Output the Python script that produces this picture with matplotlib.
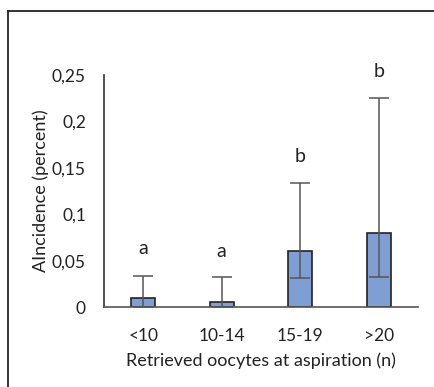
import matplotlib
matplotlib.use("Agg")
import matplotlib.pyplot as plt
from matplotlib.ticker import FuncFormatter

# Data
groups = ['<10', '10-14', '15-19', '>20']
incidence = [0.010, 0.005, 0.060, 0.080]
err_low = [0.010, 0.005, 0.029, 0.048]
err_high = [0.023, 0.027, 0.074, 0.1455]
letters = ['a', 'a', 'b', 'b']
letter_y = [0.063, 0.060, 0.162, 0.254]

plt.rcParams['font.family'] = ['Lato', 'DejaVu Sans']

fig = plt.figure(figsize=(4.34, 3.87), dpi=100)
ax = fig.add_axes([0.2396, 0.2067, 0.7234, 0.599])

x = range(len(groups))
ax.bar(x, incidence, width=0.31, color='#7f9fd4', edgecolor='#222222',
       linewidth=1.2, zorder=2)
ax.errorbar(x, incidence, yerr=[err_low, err_high], fmt='none',
            ecolor='#555555', elinewidth=1.1, capsize=7, capthick=1.1, zorder=3)

for xi, lab, ly in zip(x, letters, letter_y):
    ax.text(xi, ly, lab, ha='center', va='center', fontsize=14, color='#222222')

ax.set_xlim(-0.5, 3.5)
ax.set_ylim(0, 0.25)
ax.set_yticks([0, 0.05, 0.1, 0.15, 0.2, 0.25])
ax.yaxis.set_major_formatter(FuncFormatter(
    lambda v, p: ('%g' % round(v, 2)).replace('.', ',')))
ax.set_xticks(list(x))
ax.set_xticklabels(groups)
ax.tick_params(length=0, labelsize=12.5, colors='#222222')
ax.tick_params(axis='y', pad=13)
ax.tick_params(axis='x', pad=15)

for s in ['top', 'right']:
    ax.spines[s].set_visible(False)
ax.spines['left'].set_color('#333333')
ax.spines['bottom'].set_color('#555555')
ax.spines['left'].set_linewidth(1.2)
ax.spines['bottom'].set_linewidth(1.2)

ax.set_ylabel('AIncidence (percent)', fontsize=13, color='#222222', labelpad=2)
ax.set_xlabel('Retrieved oocytes at aspiration (n)', fontsize=13,
              color='#222222', labelpad=6)

# outer frame (left and top edges visible, rest is cropped)
fig.add_artist(plt.Line2D([8 / 434, 8 / 434], [0, 1 - 11 / 387],
                          transform=fig.transFigure, color='#222222', lw=1.3))
fig.add_artist(plt.Line2D([8 / 434, 1], [1 - 11 / 387, 1 - 11 / 387],
                          transform=fig.transFigure, color='#222222', lw=1.3))

fig.savefig('out.png', dpi=100)
